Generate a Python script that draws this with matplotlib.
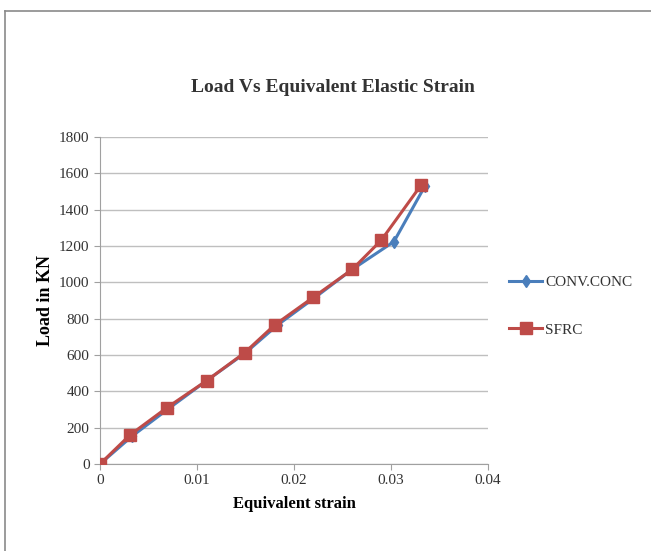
import matplotlib
matplotlib.use("Agg")
import matplotlib.pyplot as plt
from matplotlib.lines import Line2D

conv_x = [0, 0.0033, 0.0071, 0.011, 0.015, 0.0183, 0.0222, 0.026, 0.0303, 0.0335]
conv_y = [0, 153, 306, 459, 612, 765, 918, 1071, 1224, 1530]
sfrc_x = [0, 0.0031, 0.0069, 0.011, 0.0149, 0.018, 0.022, 0.026, 0.029, 0.0331]
sfrc_y = [0, 160, 310, 459, 612, 765, 918, 1071, 1232, 1535]
x_ticks = [0, 0.01, 0.02, 0.03, 0.04]
x_labels = ["0", "0.01", "0.02", "0.03", "0.04"]
y_ticks = [0, 200, 400, 600, 800, 1000, 1200, 1400, 1600, 1800]

plt.rcParams['font.family'] = ['Liberation Serif', 'DejaVu Serif']
W, H = 651, 551
fig = plt.figure(figsize=(W/100, H/100), dpi=100)
# outer chart border (visible on top and left only)
fig.lines.append(Line2D([5/W, 1], [1-11/H, 1-11/H], transform=fig.transFigure,
                        color='#8a8a8a', linewidth=1.2))
fig.lines.append(Line2D([5/W, 5/W], [0, 1-11/H], transform=fig.transFigure,
                        color='#8a8a8a', linewidth=1.2))
ax = fig.add_axes([100/W, 1-464/H, (488-100)/W, (464-137)/H])
ax.plot(conv_x, conv_y, color='#4a7ebb', linewidth=2.2, marker='d', markersize=6,
        label='CONV.CONC', zorder=3)
ax.plot(sfrc_x, sfrc_y, color='#be4b48', linewidth=2.2, marker='s', markersize=8,
        label='SFRC', zorder=4)
ax.set_xlim(0, 0.04)
ax.set_ylim(0, 1800)
ax.set_xticks(x_ticks)
ax.set_xticklabels(x_labels)
ax.set_yticks(y_ticks)
ax.grid(axis='y', color='#bfbfbf', linewidth=1)
ax.set_axisbelow(True)
for s in ['top', 'right']:
    ax.spines[s].set_visible(False)
for s in ['left', 'bottom']:
    ax.spines[s].set_color('#a0a0a0')
ax.tick_params(axis='both', colors='#a0a0a0', labelcolor='#333333', labelsize=11, length=4)
ax.set_xlabel('Equivalent strain', fontsize=12, fontweight='bold', labelpad=6)
ax.set_ylabel('Load in KN', fontsize=13, fontweight='bold', labelpad=4)
fig.text(333/W, 1-87/H, 'Load Vs Equivalent Elastic Strain', ha='center', va='center',
         fontsize=14, fontweight='bold', color='#333333')
fig.legend(loc='upper left', bbox_to_anchor=(495/W, 1-262/H), frameon=False,
           fontsize=11, handlelength=2.2, labelspacing=2.2, handletextpad=0.2,
           labelcolor='#333333')
fig.savefig('out.png', dpi=100)
